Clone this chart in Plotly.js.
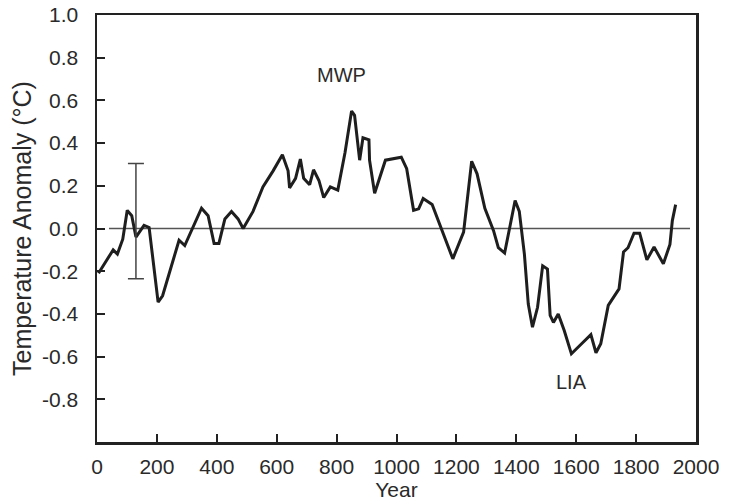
<!DOCTYPE html>
<html>
<head>
<meta charset="utf-8">
<script src="https://cdn.plot.ly/plotly-3.0.1.min.js"></script>
<style>html,body{margin:0;padding:0;background:#fff;}#chart{width:734px;height:502px;}</style>
</head>
<body>
<div id="chart"></div>
<script>
const years = [5, 54, 68, 86, 101, 116, 130, 157, 174, 204, 219, 274, 293, 349, 371, 391, 407, 427, 449, 471, 488, 521, 554, 588, 619, 638, 643, 663, 679, 690, 710, 723, 741, 757, 779, 804, 828, 850, 860, 877, 888, 908, 910, 927, 963, 1016, 1034, 1057, 1074, 1089, 1119, 1149, 1188, 1224, 1251, 1269, 1295, 1324, 1340, 1361, 1396, 1410, 1427, 1440, 1454, 1471, 1488, 1504, 1513, 1524, 1540, 1560, 1584, 1618, 1649, 1666, 1682, 1707, 1727, 1743, 1758, 1773, 1793, 1812, 1836, 1860, 1891, 1913, 1921, 1932];
const anomaly = [-0.21, -0.10, -0.12, -0.05, 0.085, 0.06, -0.04, 0.015, 0.005, -0.345, -0.315, -0.055, -0.08, 0.095, 0.06, -0.07, -0.07, 0.045, 0.08, 0.045, 0.0, 0.08, 0.195, 0.27, 0.345, 0.27, 0.19, 0.235, 0.325, 0.235, 0.205, 0.275, 0.225, 0.145, 0.195, 0.18, 0.355, 0.55, 0.53, 0.32, 0.425, 0.415, 0.32, 0.165, 0.32, 0.334, 0.28, 0.085, 0.092, 0.14, 0.112, 0.0, -0.142, -0.017, 0.315, 0.256, 0.095, -0.01, -0.09, -0.115, 0.131, 0.08, -0.12, -0.354, -0.462, -0.369, -0.175, -0.19, -0.407, -0.44, -0.4, -0.478, -0.587, -0.54, -0.497, -0.582, -0.54, -0.36, -0.32, -0.283, -0.11, -0.09, -0.022, -0.022, -0.147, -0.087, -0.165, -0.075, 0.037, 0.112];

const errYear = [130];
const errCenter = [0.035];
const errPlus = [0.27];
const errMinus = [0.27];

const xTickVals = [0, 200, 400, 600, 800, 1000, 1200, 1400, 1600, 1800, 2000];
const yTickVals = [1.0, 0.8, 0.6, 0.4, 0.2, 0.0, -0.2, -0.4, -0.6, -0.8];
const yTickText = ['1.0', '0.8', '0.6', '0.4', '0.2', '0.0', '-0.2', '-0.4', '-0.6', '-0.8'];

const zeroLineRange = [40, 1980];

const labels = [
  {text: 'MWP', x: 817, y: 0.72},
  {text: 'LIA', x: 1583, y: -0.717}
];

const FONT = 'Liberation Sans, Arial, sans-serif';
const TXT = '#2a2a2a';

const traces = [
  {
    x: years, y: anomaly, type: 'scatter', mode: 'lines',
    line: {color: '#1e1e1e', width: 3}, hoverinfo: 'skip'
  },
  {
    x: errYear, y: errCenter, type: 'scatter', mode: 'markers',
    marker: {size: 0.1, color: 'rgba(0,0,0,0)'},
    error_y: {type: 'data', symmetric: false, array: errPlus, arrayminus: errMinus,
      color: '#444', thickness: 1.5, width: 8},
    hoverinfo: 'skip'
  }
];

const layout = {
  width: 734, height: 502,
  margin: {l: 97, r: 38, t: 15, b: 60},
  paper_bgcolor: '#fff', plot_bgcolor: '#fff',
  showlegend: false,
  font: {family: FONT, size: 20, color: TXT},
  xaxis: {
    range: [0, 2000], tickvals: xTickVals, ticks: 'inside', ticklen: 8, tickwidth: 2,
    tickcolor: '#222', showline: true, linecolor: '#222', linewidth: 2.5, mirror: true,
    showgrid: false, zeroline: false, ticklabelstandoff: 4,
    title: {text: 'Year', font: {family: FONT, size: 21, color: TXT}, standoff: 0},
    tickfont: {family: FONT, size: 21, color: TXT}
  },
  yaxis: {
    range: [-1.0, 1.0], tickvals: yTickVals, ticktext: yTickText, ticks: 'inside', ticklen: 8, tickwidth: 2,
    tickcolor: '#222', showline: true, linecolor: '#222', linewidth: 2.5, mirror: true,
    showgrid: false, zeroline: false, ticklabelstandoff: 12,
    title: {text: 'Temperature Anomaly (°C)', font: {family: FONT, size: 25, color: TXT}, standoff: 4},
    tickfont: {family: FONT, size: 21, color: TXT}
  },
  shapes: [
    {type: 'line', xref: 'x', yref: 'y', x0: zeroLineRange[0], x1: zeroLineRange[1], y0: 0, y1: 0,
     line: {color: '#555', width: 1.5}, layer: 'below'}
  ],
  annotations: labels.map(l => ({
    text: l.text, x: l.x, y: l.y, xref: 'x', yref: 'y', showarrow: false,
    font: {family: FONT, size: 20, color: TXT}
  }))
};

Plotly.newPlot('chart', traces, layout, {displayModeBar: false, staticPlot: true});
</script>
</body>
</html>
